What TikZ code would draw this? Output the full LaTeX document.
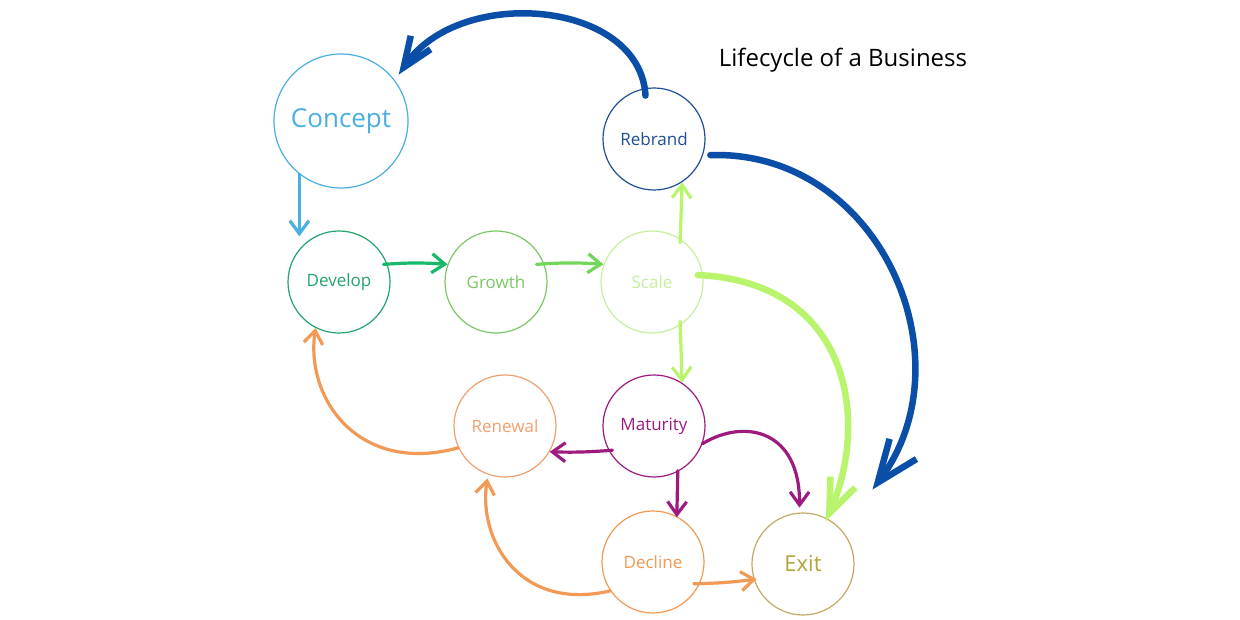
\documentclass[tikz,border=0pt]{standalone}
\usepackage{fontspec}
\setmainfont{Open Sans}
\usetikzlibrary{arrows.meta}
\definecolor{cconcept}{HTML}{4AAFE3}
\definecolor{crebrand}{HTML}{1F4F96}
\definecolor{cbigblue}{HTML}{0B4EA8}
\definecolor{cdevelop}{HTML}{23A46E}
\definecolor{cdevarrow}{HTML}{19B86A}
\definecolor{cgrowth}{HTML}{7CC765}
\definecolor{cgrowarrow}{HTML}{72D65A}
\definecolor{cscale}{HTML}{C6EF9E}
\definecolor{cscalearrow}{HTML}{B9F56C}
\definecolor{cmaturity}{HTML}{9E1A7E}
\definecolor{crenewal}{HTML}{EFA06E}
\definecolor{corange}{HTML}{F29955}
\definecolor{cexit}{HTML}{C2AB62}
\definecolor{cexittext}{HTML}{B3A43E}
\tikzset{
  stage/.style={circle, draw, line width=1.2pt, inner sep=0pt, minimum size=102pt, font=\fontsize{17}{20}\selectfont},
  thin/.style={line width=3.2pt, line cap=round, line join=round, -{Straight Barb[length=13pt,width=19pt,line width=3.2pt]}},
  thick/.style={line width=6.5pt, line cap=round, line join=round},
  bighead/.style={-{Straight Barb[length=#1,width=0.8*#1,line width=6.5pt]}}
}
\begin{document}
\begin{tikzpicture}[x=1pt,y=-1pt]
\useasboundingbox[fill=white] (0,0) rectangle (1240,620);
% nodes
\node[stage, draw=cconcept, text=cconcept, minimum size=134pt, font=\fontsize{26}{30}\selectfont] (concept) at (341,121) {Concept};
\node[stage, draw=crebrand, text=crebrand] (rebrand) at (654,139) {Rebrand};
\node[stage, draw=cdevelop, text=cdevelop] (develop) at (339,282) {Develop};
\node[stage, draw=cgrowth, text=cgrowth] (growth) at (496,282) {Growth};
\node[stage, draw=cscale, text=cscale] (scale) at (652,282) {Scale};
\node[stage, draw=crenewal, text=crenewal] (renewal) at (505,426) {Renewal};
\node[stage, draw=cmaturity, text=cmaturity] (maturity) at (654,426) {Maturity};
\node[stage, draw=corange, text=corange] (decline) at (653,562) {Decline};
\node[stage, draw=cexit, text=cexittext, font=\fontsize{22}{26}\selectfont] (exit) at (803,564) {Exit};
\node[font=\fontsize{24}{28}\selectfont, text=black] (title) at (843,60) {Lifecycle of a Business};
% connectors
\draw[thick, bighead=30pt, cbigblue] ([shift={(-4,8)}]rebrand.95) .. controls (640,0) and (460,-15) .. ([shift={(6,-3)}]concept.40);
\draw[thick, bighead=42pt, cbigblue] ([shift={(7,1)}]rebrand.-17) .. controls (880,150) and (970,360) .. ([shift={(33,-38)}]exit.45);
\draw[thick, bighead=34pt, cscalearrow] ([shift={(-5,2)}]scale.10) .. controls (850,282) and (870,420) .. ([shift={(-6,0)}]exit.56);
\draw[thin, cconcept] (concept.232) -- ([shift={(0,6)}]concept.232 |- develop.north);
\draw[thin, cdevarrow] ([shift={(-4,0)}]develop.20) to[bend left=4] (growth.160);
\draw[thin, cgrowarrow] ([shift={(-8,0)}]growth.20) to[bend left=4] (scale.160);
\draw[thin, cscalearrow] ([shift={(0,4)}]scale.57) -- (rebrand.-57);
\draw[thin, cscalearrow] ([shift={(0,-4)}]scale.-57) -- (maturity.57);
\draw[thin, cmaturity] ([shift={(4,0)}]maturity.208) to[bend left=3] (renewal.-30);
\draw[thin, cmaturity] ([shift={(-2,0)}]maturity.-60) -- ([shift={(-2,0)}]decline.60);
\draw[thin, cmaturity] (maturity.-20) .. controls (745,418) and (800,430) .. ([shift={(1,-5)}]exit.95);
\draw[thin, corange] (renewal.205) .. controls (360,475) and (305,400) .. (develop.243);
\draw[thin, corange] (decline.214) .. controls (520,612) and (478,540) .. ([shift={(0,4)}]renewal.250);
\draw[thin, corange] ([shift={(-6,0)}]decline.-25) to[bend right=3] ([shift={(3,0)}]exit.197);
\end{tikzpicture}
\end{document}
